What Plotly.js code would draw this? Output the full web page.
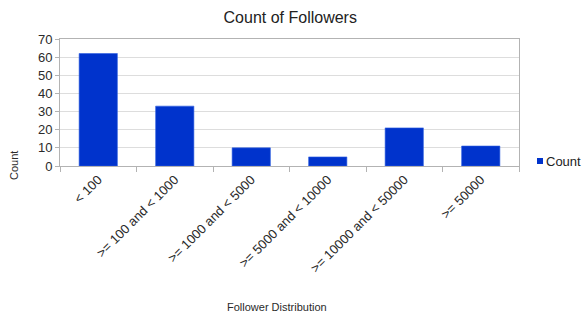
<!DOCTYPE html>
<html>
<head>
<meta charset="utf-8">
<script src="https://cdn.plot.ly/plotly-3.0.1.min.js"></script>
<style>html,body{margin:0;padding:0;background:#fff;}#chart{width:584px;height:313px;}</style>
</head>
<body>
<div id="chart"></div>
<script>
const categories = ["< 100", ">= 100 and < 1000", ">= 1000 and < 5000", ">= 5000 and < 10000", ">= 10000 and < 50000", ">= 50000"];
const counts = [62, 33, 10, 5, 21, 11];
const seriesName = "Count";
const chartTitle = "Count of Followers";
const xTitle = "Follower Distribution";
const yTitle = "Count";

const L = 60, R = 65, T = 39, B = 147, W = 584, H = 313;
const pw = W - L - R, ph = H - T - B;
function px(x){ return (x - L) / pw; }
function py(y){ return (H - B - y) / ph; }
const barColor = "#0033cc";

const trace = {
  type: "bar",
  x: categories,
  y: counts,
  name: seriesName,
  marker: {color: barColor, line: {color: "#2f5fe0", width: 0.6}},
  showlegend: false
};

const layout = {
  width: W, height: H,
  margin: {l: L, r: R, t: T, b: B, pad: 0, autoexpand: false},
  paper_bgcolor: "#ffffff",
  plot_bgcolor: "#ffffff",
  font: {family: "Liberation Sans, Arial, sans-serif", color: "#333333"},
  title: {text: chartTitle, x: 0.497, xanchor: "center", y: 1 - 17/H, yanchor: "middle",
          font: {size: 16, color: "#222222"}},
  bargap: 0.5,
  showlegend: false,
  xaxis: {
    type: "category",
    tickangle: -45,
    tickson: "boundaries",
    ticks: "outside", ticklen: 5, tickcolor: "#b3b3b3",
    showgrid: false,
    showline: true, linecolor: "#b3b3b3", linewidth: 1, mirror: true,
    tickfont: {size: 13, color: "#2a2a2a"},
    automargin: false
  },
  yaxis: {
    range: [0, 70],
    dtick: 10,
    ticks: "outside", ticklen: 4, tickcolor: "#b3b3b3",
    showgrid: true, gridcolor: "#dddddd", gridwidth: 1,
    showline: true, linecolor: "#b3b3b3", linewidth: 1, mirror: true,
    zeroline: false,
    tickfont: {size: 13, color: "#2a2a2a"},
    automargin: false
  },
  shapes: [
    {type: "rect", xref: "paper", yref: "paper", x0: px(537), x1: px(543), y0: py(158), y1: py(164),
     fillcolor: barColor, line: {width: 0}}
  ],
  annotations: [
    {text: yTitle, xref: "paper", yref: "paper", x: px(14), y: py(166), textangle: -90,
     showarrow: false, xanchor: "center", yanchor: "middle", font: {size: 11, color: "#2a2a2a"}},
    {text: xTitle, xref: "paper", yref: "paper", x: px(277), y: py(307),
     showarrow: false, xanchor: "center", yanchor: "middle", font: {size: 11, color: "#2a2a2a"}},
    {text: seriesName, xref: "paper", yref: "paper", x: px(544), y: py(161),
     showarrow: false, xanchor: "left", yanchor: "middle", font: {size: 13, color: "#222222"}}
  ]
};

Plotly.newPlot("chart", [trace], layout, {displayModeBar: false, staticPlot: true});
</script>
</body>
</html>
